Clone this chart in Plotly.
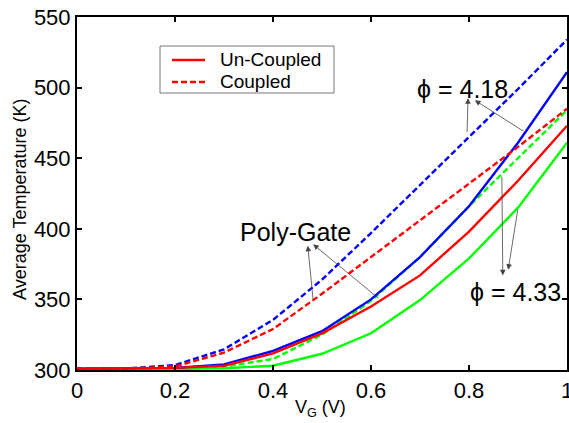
import plotly.graph_objects as go

vg = [0.0, 0.1, 0.2, 0.3, 0.4, 0.5, 0.6, 0.7, 0.8, 0.9, 1.0]

# phi = 4.18 (blue), Poly-Gate (red), phi = 4.33 (green)
blue_coupled = [301, 301, 303.5, 314.6, 335.5, 364, 397, 431, 465, 499, 534]
red_coupled = [301, 301, 302.5, 312.3, 329, 354, 380, 406, 432, 458, 485]
green_coupled = [300.5, 300.5, 301, 302.4, 307.8, 325, 349, 380, 416, 450, 484]
blue_uncoupled = [301, 301, 301.5, 304, 313.5, 327.5, 350, 380, 416, 461, 511]
red_uncoupled = [301, 301, 301.5, 303, 311.8, 326, 345, 367, 398, 434, 473]
green_uncoupled = [300.5, 300.5, 300.8, 301.2, 303, 311.5, 326, 349.5, 379, 415, 461]

x_ticks = [0, 0.2, 0.4, 0.6, 0.8, 1]
x_tick_labels = ["0", "0.2", "0.4", "0.6", "0.8", "1"]
y_ticks = [300, 350, 400, 450, 500, 550]
legend_labels = ["Un-Coupled", "Coupled"]

FONT = "Arial, Liberation Sans, sans-serif"
DASH = "6px,3px"
LW = 2.4
RED = "#ff0000"

fig = go.Figure()

def add(y, color, dash, name):
    fig.add_trace(go.Scatter(
        x=vg, y=y, mode="lines", name=name, showlegend=False,
        line=dict(color=color, width=LW, dash=dash),
    ))

add(green_uncoupled, "#00ff00", "solid", "phi=4.33 Un-Coupled")
add(green_coupled, "#00ff00", DASH, "phi=4.33 Coupled")
add(blue_uncoupled, "#0000ff", "solid", "phi=4.18 Un-Coupled")
add(blue_coupled, "#0000ff", DASH, "phi=4.18 Coupled")
add(red_uncoupled, RED, "solid", "Poly-Gate Un-Coupled")
add(red_coupled, RED, DASH, "Poly-Gate Coupled")

arrows = [
    # (head x, head y, tail x, tail y)
    (0.798, 492.5, 0.796, 467.5),
    (0.812, 491.0, 0.914, 468.5),
    (0.869, 367.0, 0.867, 438.0),
    (0.880, 371.0, 0.900, 414.5),
    (0.471, 388.0, 0.482, 349.0),
    (0.482, 389.0, 0.618, 350.0),
]
for hx, hy, tx, ty in arrows:
    fig.add_annotation(
        x=hx, y=hy, ax=tx, ay=ty, xref="x", yref="y", axref="x", ayref="y",
        text="", showarrow=True, arrowhead=2, arrowsize=1.4, arrowwidth=0.8,
        arrowcolor="#444444",
    )

texts = [
    ("\u03d5 = 4.18", 0.786, 499),
    ("\u03d5 = 4.33", 0.894, 355),
    ("Poly-Gate", 0.445, 397.5),
]
for t, x, y in texts:
    fig.add_annotation(
        x=x, y=y, xref="x", yref="y", text=t, showarrow=False,
        font=dict(family=FONT, size=25, color="black"),
        xanchor="center", yanchor="middle",
    )

# legend box (drawn manually for exact row spacing)
fig.add_shape(type="rect", xref="paper", yref="paper",
              x0=0.1694, x1=0.5245, y0=0.7847, y1=0.9178,
              line=dict(color="#777777", width=1), fillcolor="white", layer="above")
for i, (lab, dash) in enumerate(zip(legend_labels, ["solid", DASH])):
    yy = 0.8782 - i * 0.0623
    fig.add_shape(type="line", xref="paper", yref="paper",
                  x0=0.1939, x1=0.2612, y0=yy, y1=yy,
                  line=dict(color=RED, width=LW, dash=dash), layer="above")
    fig.add_annotation(x=0.2878, y=yy, xref="paper", yref="paper", text=lab,
                       showarrow=False, xanchor="left", yanchor="middle",
                       font=dict(family=FONT, size=19, color="black"))

# axis titles
fig.add_annotation(
    x=0.496, y=-0.108, xref="paper", yref="paper", text="V<sub>G</sub> (V)",
    showarrow=False, font=dict(family=FONT, size=18, color="black"),
    xanchor="center", yanchor="middle",
)
fig.add_annotation(
    x=-0.116, y=0.482, xref="paper", yref="paper", text="Average Temperature (K)",
    showarrow=False, textangle=-90, font=dict(family=FONT, size=18, color="black"),
    xanchor="center", yanchor="middle",
)

axis_common = dict(
    showline=True, linecolor="black", linewidth=2, mirror="ticks",
    ticks="inside", ticklen=5, tickwidth=1.5, tickcolor="black",
    showgrid=False, zeroline=False, automargin=False,
    ticklabeloverflow="allow",
    tickfont=dict(family=FONT, size=22, color="black"),
)

fig.update_layout(
    width=569, height=423,
    margin=dict(l=77, r=2, t=17, b=53),
    paper_bgcolor="white", plot_bgcolor="white",
    font=dict(family=FONT, color="black"),
    showlegend=False,
    xaxis=dict(range=[0, 1], tickvals=x_ticks, ticktext=x_tick_labels, **axis_common),
    yaxis=dict(range=[300, 550], tickvals=y_ticks, **axis_common),
)

fig.write_html(
    "out.html",
    config={"displayModeBar": False},
    post_script="document.body.style.margin='0';document.body.style.overflow='hidden';",
)
